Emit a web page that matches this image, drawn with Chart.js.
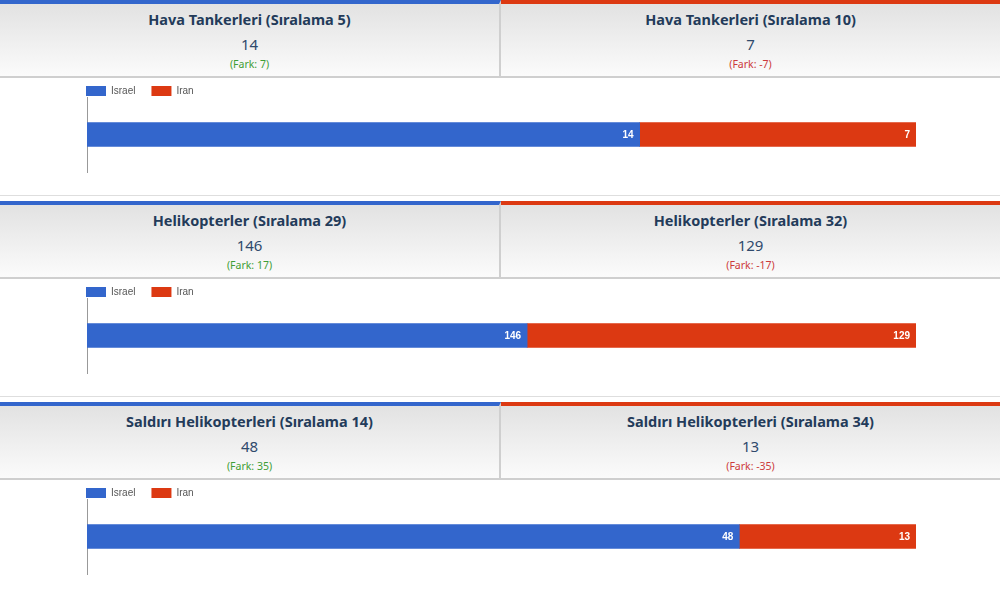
<!DOCTYPE html>
<html>
<head>
<meta charset="utf-8">
<script src="https://cdn.jsdelivr.net/npm/chart.js@4"></script>
<style>
  body { margin: 0; background: #fff; font-family: "Noto Sans", Arial, sans-serif; width: 1000px; overflow: hidden; }
  .section { height: 201px; position: relative; }
  .head { display: flex; height: 78px; }
  .panel { flex: 1; box-sizing: border-box; height: 78px; text-align: center;
           background: linear-gradient(#e2e2e2, #fbfbfb); border-bottom: 2px solid #cfcfcf; }
  .panel.left { border-top: 4px solid #3366cc; border-right: 2px solid #cfcfcf; }
  .panel.right { border-top: 4px solid #dc3912; }
  .title { font-weight: bold; font-size: 14.5px; color: #233b5a; margin-top: 6px; line-height: 18px; }
  .value { font-size: 15px; color: #2f4a6c; margin-top: 6px; line-height: 20px; }
  .fark { font-size: 10.5px; margin-top: 3px; line-height: 14px; }
  .pos { color: #3f9e36; }
  .neg { color: #cc3b3b; }
  .chartbox { height: 117px; position: relative; border-bottom: 1px solid #dedede; }
</style>
</head>
<body>
<div id="root"></div>
<script>
const categories = ['Hava Tankerleri', 'Helikopterler', 'Saldırı Helikopterleri'];
const israelValues = [14, 146, 48];
const iranValues = [7, 129, 13];
const israelRanks = [5, 29, 14];
const iranRanks = [10, 32, 34];
const seriesNames = ['Israel', 'Iran'];
const seriesColors = ['#3366cc', '#dc3912'];

// white value labels at the end of each bar segment
const barLabels = {
  id: 'barLabels',
  afterDatasetsDraw(chart) {
    const ctx = chart.ctx;
    ctx.save();
    ctx.fillStyle = '#fff';
    ctx.font = 'bold 10px Arial';
    ctx.textAlign = 'right';
    ctx.textBaseline = 'middle';
    chart.data.datasets.forEach((ds, i) => {
      chart.getDatasetMeta(i).data.forEach((bar, j) => {
        ctx.fillText(ds.data[j], bar.x - 6, bar.y + 1);
      });
    });
    ctx.restore();
  }
};

// keep the legend from taking so much height above the plot
const tightLegend = {
  id: 'tightLegend',
  beforeInit(chart) {
    const fit = chart.legend.fit;
    chart.legend.fit = function() {
      fit.call(this);
      this.height -= 9;
    };
  }
};

const root = document.getElementById('root');

categories.forEach((cat, i) => {
  const diff = israelValues[i] - iranValues[i];
  const sec = document.createElement('div');
  sec.className = 'section';
  sec.innerHTML =
    '<div class="head">' +
      '<div class="panel left"><div class="title">' + cat + ' (Sıralama ' + israelRanks[i] + ')</div>' +
      '<div class="value">' + israelValues[i] + '</div>' +
      '<div class="fark ' + (diff >= 0 ? 'pos' : 'neg') + '">(Fark: ' + diff + ')</div></div>' +
      '<div class="panel right"><div class="title">' + cat + ' (Sıralama ' + iranRanks[i] + ')</div>' +
      '<div class="value">' + iranValues[i] + '</div>' +
      '<div class="fark ' + (-diff >= 0 ? 'pos' : 'neg') + '">(Fark: ' + (-diff) + ')</div></div>' +
    '</div>' +
    '<div class="chartbox"><canvas id="c' + i + '"></canvas></div>';
  root.appendChild(sec);

  new Chart(document.getElementById('c' + i).getContext('2d'), {
    type: 'bar',
    data: {
      labels: [cat],
      datasets: [
        { label: seriesNames[0], data: [israelValues[i]], backgroundColor: seriesColors[0], barThickness: 24 },
        { label: seriesNames[1], data: [iranValues[i]], backgroundColor: seriesColors[1], barThickness: 24 }
      ]
    },
    options: {
      indexAxis: 'y',
      responsive: true,
      maintainAspectRatio: false,
      animation: false,
      layout: { padding: { left: 70, right: 84, top: -8, bottom: 23 } },
      plugins: {
        legend: {
          align: 'start',
          labels: { boxWidth: 20, boxHeight: 10, padding: 16, color: '#555', font: { size: 10, family: 'Arial' } }
        },
        tooltip: { enabled: false }
      },
      scales: {
        x: { stacked: true, display: false, min: 0, max: israelValues[i] + iranValues[i] },
        y: {
          stacked: true,
          grid: { display: false },
          ticks: { display: false },
          border: { display: true, color: '#999' },
          afterFit(axis) { axis.width = 17; }
        }
      }
    },
    plugins: [barLabels, tightLegend]
  });
});
</script>
</body>
</html>
